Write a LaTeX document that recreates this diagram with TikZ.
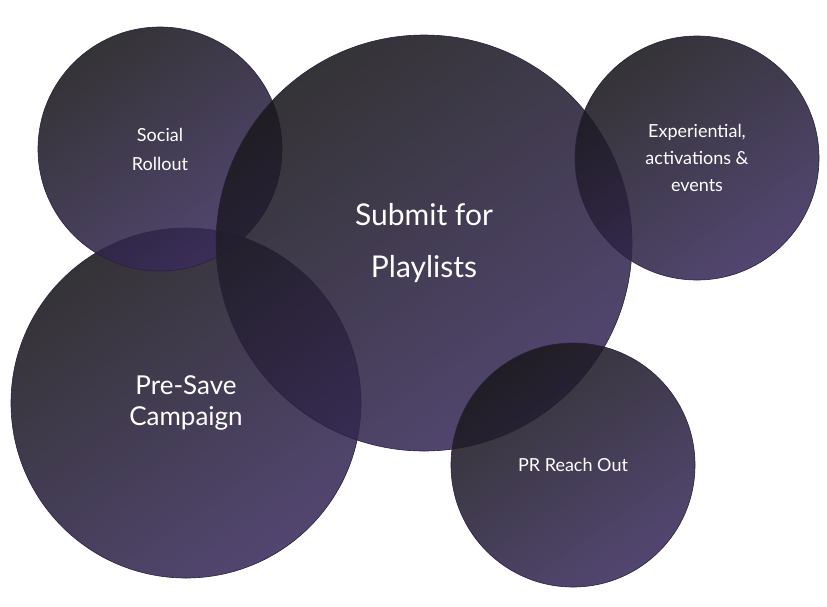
\documentclass[tikz,border=0pt]{standalone}
\usepackage{fontspec}
\setmainfont{Lato}
\definecolor{dk}{HTML}{19181B}
\definecolor{pu}{HTML}{3B2D5E}
\begin{document}
\begin{tikzpicture}[x=1pt,y=-1pt,
  bub/.style={circle,draw=pu!70!black,line width=0.6pt,top color=dk,bottom color=pu,shading angle=35,fill opacity=0.88,text=white,align=center,text opacity=1,inner sep=0pt}]
\useasboundingbox[fill=white] (0,0) rectangle (827,606);
\node[bub,minimum size=350pt,font=\fontsize{26}{31}\selectfont] (pre) at (186,403) {Pre-Save\\Campaign};
\node[bub,minimum size=244pt,font=\fontsize{18}{29}\selectfont] (soc) at (160,149) {Social\\Rollout};
\node[bub,minimum size=416pt,font=\fontsize{30}{52}\selectfont] (sub) at (424,243) {Submit for\\Playlists};
\node[bub,minimum size=244pt,font=\fontsize{18}{27}\selectfont] (exp) at (697,158) {Experiential,\\activations \&\\events};
\node[bub,minimum size=244pt,font=\fontsize{18}{22}\selectfont] (pr) at (573,465) {PR Reach Out};
\end{tikzpicture}
\end{document}
